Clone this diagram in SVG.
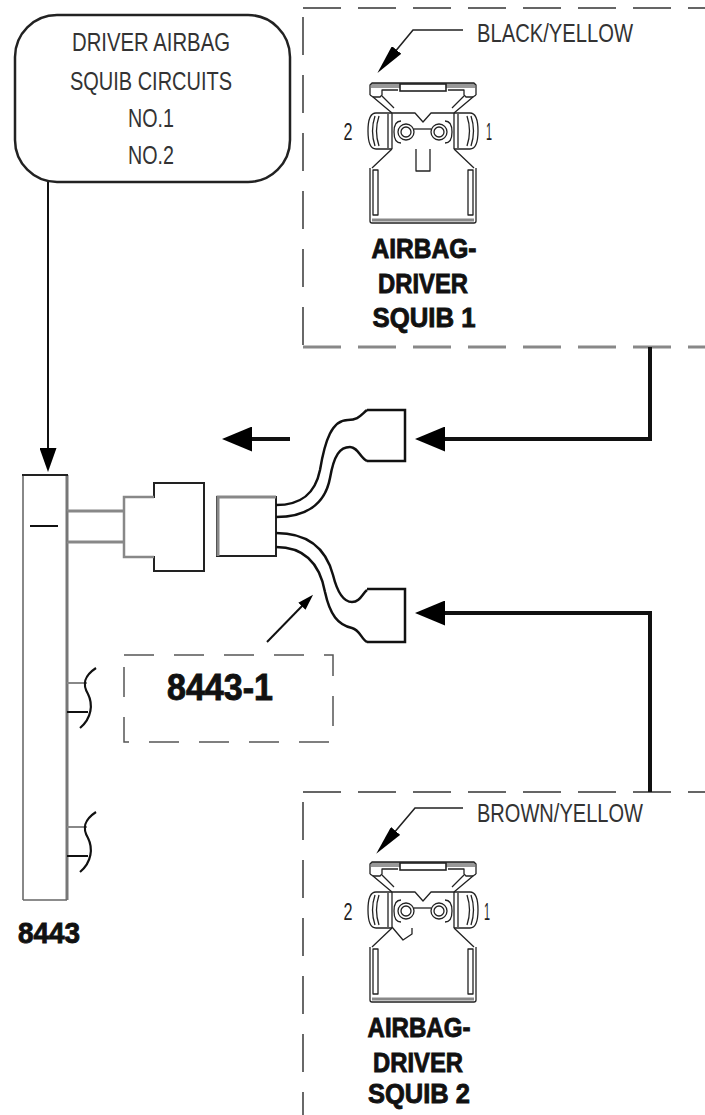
<svg xmlns="http://www.w3.org/2000/svg" xmlns:xlink="http://www.w3.org/1999/xlink" width="705" height="1115" viewBox="0 0 705 1115">
<style>
.thin{font-family:"Liberation Sans",Arial,sans-serif;fill:#333;font-size:25px}
.num{font-family:"Liberation Sans",Arial,sans-serif;fill:#222;font-size:23px}
.bold{font-family:"Liberation Sans",Arial,sans-serif;font-weight:bold;fill:#111;stroke:#111;stroke-width:0.9}
.ln{fill:none;stroke:#111;stroke-linecap:butt;stroke-linejoin:miter}
.dashTop{fill:none;stroke:#333;stroke-width:1.6;stroke-dasharray:38 17}
.dashBot{fill:none;stroke:#888;stroke-width:3;stroke-dasharray:38 17}
.dashSide{fill:none;stroke:#444;stroke-width:1.6;stroke-dasharray:38 20}
.pl{fill:none;stroke:#222;stroke-width:1.3;stroke-linejoin:round}
</style>
<defs>
<marker id="bigHead" viewBox="0 0 30 25" markerWidth="30" markerHeight="25" refX="5" refY="12.5" orient="auto" markerUnits="userSpaceOnUse">
<path d="M0,0 L30,12.5 L0,25 Z" fill="#000"/>
</marker>
<marker id="downHead" viewBox="0 0 24 17" markerWidth="24" markerHeight="17" refX="4" refY="8.5" orient="auto" markerUnits="userSpaceOnUse">
<path d="M0,0 L24,8.5 L0,17 Z" fill="#000"/>
</marker>
<marker id="smallHead" viewBox="0 0 16 10" markerWidth="16" markerHeight="10" refX="3" refY="5" orient="auto" markerUnits="userSpaceOnUse">
<path d="M0,0 L16,5 L0,10 Z" fill="#000"/>
</marker>
<marker id="leadHead" viewBox="0 0 30 12" markerWidth="30" markerHeight="12" refX="4" refY="6" orient="auto" markerUnits="userSpaceOnUse">
<path d="M0,0 L30,6 L0,12 Z" fill="#000"/>
</marker>
<g id="plug">
<rect x="3" y="0" width="104" height="5" fill="#999"/>
<path class="pl" d="M2,12 V2 L4,0 H106 L108,2 V12"/>
<path class="pl" d="M2,12 L5,14 H12 L14,12 V7 H30"/>
<path class="pl" d="M108,12 L105,14 H98 L96,12 V7 H80"/>
<rect x="32" y="1" width="46" height="7" fill="#fff" stroke="#222" stroke-width="1.6"/>
<path class="pl" d="M5,14 L24,30 M14,13 L26,25"/>
<path class="pl" d="M105,14 L86,30 M96,13 L84,25"/>
<path class="pl" d="M24,30 H8 Q0,30 0,48 Q0,66 8,66 H24"/>
<path class="pl" d="M7,33 Q2,48 7,63 M11,33 Q6,48 11,63 M20,31 V65"/>
<path class="pl" d="M86,30 H102 Q110,30 110,48 Q110,66 102,66 H86"/>
<path class="pl" d="M103,33 Q108,48 103,63 M99,33 Q104,48 99,63 M90,31 V65"/>
<path class="pl" d="M24,30 V66 M86,30 V66 M24,30 H47 L55,39 L63,30 H86"/>
<path class="pl" d="M33,38 Q26,38 26,49 Q26,60 33,60 M77,38 Q84,38 84,49 Q84,60 77,60"/>
<circle cx="38" cy="49" r="8" class="pl"/>
<circle cx="38" cy="49" r="5" class="pl"/>
<circle cx="71" cy="49" r="8" class="pl"/>
<circle cx="71" cy="49" r="5" class="pl"/>
<path class="pl" d="M46,46 H63"/>
<path class="pl" d="M24,66 L4,85 M86,66 L106,85"/>
<path class="pl" d="M2,85 V138 Q2,140 4,140 H106 Q108,140 108,138 V85"/>
<path d="M4,137 H106" stroke="#888" stroke-width="3"/>
<rect x="5" y="87" width="5" height="45" class="pl"/>
<rect x="100" y="87" width="5" height="45" class="pl"/>
</g>
</defs>

<g id="circuits-box">
<rect x="15" y="15" width="275" height="167" rx="42" ry="42" fill="#fff" stroke="#222" stroke-width="2.5"/>
<text class="thin" x="151" y="51" text-anchor="middle" textLength="158" lengthAdjust="spacingAndGlyphs">DRIVER AIRBAG</text>
<text class="thin" x="151" y="90" text-anchor="middle" textLength="162" lengthAdjust="spacingAndGlyphs">SQUIB CIRCUITS</text>
<text class="thin" x="151" y="127" text-anchor="middle" textLength="46" lengthAdjust="spacingAndGlyphs">NO.1</text>
<text class="thin" x="151" y="164" text-anchor="middle" textLength="46" lengthAdjust="spacingAndGlyphs">NO.2</text>
</g>

<g id="squib1-box">
<path class="dashTop" d="M303,8 H705"/>
<path class="dashSide" d="M303,17 V345"/>
<path class="dashBot" d="M303,347 H705"/>
<use xlink:href="#plug" href="#plug" transform="translate(368,83)"/>
<path class="pl" d="M416,149 V171 H430 V149"/>
<text class="num" x="348" y="140" text-anchor="middle" textLength="9" lengthAdjust="spacingAndGlyphs">2</text>
<text class="num" x="489" y="140" text-anchor="middle" textLength="6" lengthAdjust="spacingAndGlyphs">1</text>
<path d="M463,30 H413 L394,53" fill="none" stroke="#222" stroke-width="1.6" marker-end="url(#leadHead)"/>
<text class="thin" x="477" y="42" textLength="156" lengthAdjust="spacingAndGlyphs">BLACK/YELLOW</text>
<text class="bold" x="424" y="258" text-anchor="middle" font-size="28" textLength="105" lengthAdjust="spacingAndGlyphs">AIRBAG-</text>
<text class="bold" x="423" y="293" text-anchor="middle" font-size="28" textLength="90" lengthAdjust="spacingAndGlyphs">DRIVER</text>
<text class="bold" x="424" y="327" text-anchor="middle" font-size="28" textLength="103" lengthAdjust="spacingAndGlyphs">SQUIB 1</text>
</g>

<g id="squib2-box">
<path class="dashTop" d="M303,792 H705"/>
<path class="dashSide" d="M303,802 V1115"/>
<use xlink:href="#plug" href="#plug" transform="translate(368,862)"/>
<path class="pl" d="M392,927 L403,940 L412,934 V928"/>
<text class="num" x="348" y="920" text-anchor="middle" textLength="9" lengthAdjust="spacingAndGlyphs">2</text>
<text class="num" x="487" y="920" text-anchor="middle" textLength="6" lengthAdjust="spacingAndGlyphs">1</text>
<path d="M463,808 H415 L393,834" fill="none" stroke="#222" stroke-width="1.6" marker-end="url(#leadHead)"/>
<text class="thin" x="477" y="822" textLength="166" lengthAdjust="spacingAndGlyphs">BROWN/YELLOW</text>
<text class="bold" x="419" y="1037" text-anchor="middle" font-size="28" textLength="103" lengthAdjust="spacingAndGlyphs">AIRBAG-</text>
<text class="bold" x="418" y="1072" text-anchor="middle" font-size="28" textLength="90" lengthAdjust="spacingAndGlyphs">DRIVER</text>
<text class="bold" x="419" y="1103" text-anchor="middle" font-size="28" textLength="102" lengthAdjust="spacingAndGlyphs">SQUIB 2</text>
</g>

<g id="module-8443">
<path d="M23,475 V900" stroke="#888" stroke-width="2" fill="none"/>
<path d="M67,475 V900" stroke="#777" stroke-width="3" fill="none"/>
<path d="M22,475 H68" stroke="#222" stroke-width="2"/>
<path d="M23,900 H67" stroke="#666" stroke-width="1.5"/>
<path d="M30,526 H58" stroke="#111" stroke-width="2"/>
<path d="M67,683 H87" stroke="#888" stroke-width="2"/>
<path d="M67,712 H88" stroke="#111" stroke-width="2"/>
<path class="ln" stroke-width="2.2" d="M96,668 C84,676 82,684 88,694 C93,704 92,718 80,728"/>
<path d="M67,827 H87" stroke="#888" stroke-width="2"/>
<path d="M67,856 H88" stroke="#111" stroke-width="2"/>
<path class="ln" stroke-width="2.2" d="M96,812 C84,820 82,828 88,838 C93,848 92,862 80,872"/>
<text class="bold" x="18" y="943" font-size="29" textLength="62" lengthAdjust="spacingAndGlyphs">8443</text>
</g>

<g id="harness-8443-1">
<path d="M67,511 H124 M67,542 H124" stroke="#888" stroke-width="3" fill="none"/>
<path d="M67,511 V542" stroke="#777" stroke-width="1"/>
<polygon points="124,497 154,497 154,483 204,483 204,571 154,571 154,557 124,557" fill="#fff" stroke="#222" stroke-width="2"/>
<path d="M154,497 H124 V557 H154" fill="none" stroke="#888" stroke-width="2.5"/>
<rect x="217" y="497" width="59" height="59" fill="#fff" stroke="#222" stroke-width="2"/>
<path d="M218,556 V497 H276" fill="none" stroke="#888" stroke-width="3"/>
<path class="ln" stroke-width="2.5" d="M276,505 C300,505 315,495 320,470 C325,440 332,420 348,420 C358,420 360,416 367,410"/>
<path class="ln" stroke-width="2.5" d="M276,517 C305,517 325,505 330,478 C334,455 340,447 350,447 C358,447 360,458 367,461"/>
<path class="ln" stroke-width="2.5" d="M276,533 C305,533 325,545 333,575 C338,595 345,602 352,602 C360,602 362,594 367,590"/>
<path class="ln" stroke-width="2.5" d="M276,547 C305,547 320,565 325,592 C330,615 338,625 352,628 C360,630 362,640 367,642"/>
<path class="ln" stroke-width="2.5" d="M367,410 H405 V461 H367"/>
<path class="ln" stroke-width="2.5" d="M367,589 H405 V642 H367"/>
</g>

<g id="label-8443-1">
<rect x="124" y="655" width="209" height="87" fill="none" stroke="#555" stroke-width="1.5" stroke-dasharray="30 20"/>
<text class="bold" x="220" y="700" text-anchor="middle" font-size="36" textLength="106" lengthAdjust="spacingAndGlyphs">8443-1</text>
</g>

<g id="connectors">
<path class="ln" stroke-width="2" d="M48,182 V452" marker-end="url(#downHead)"/>
<path class="ln" stroke-width="4" d="M650,347 V439 H440" marker-end="url(#bigHead)"/>
<path class="ln" stroke-width="4" d="M650,792 V613 H440" marker-end="url(#bigHead)"/>
<path class="ln" stroke-width="4" d="M290,439 H247" marker-end="url(#bigHead)"/>
<path class="ln" stroke-width="2" d="M267,642 L304,604" marker-end="url(#smallHead)"/>
</g>
</svg>
